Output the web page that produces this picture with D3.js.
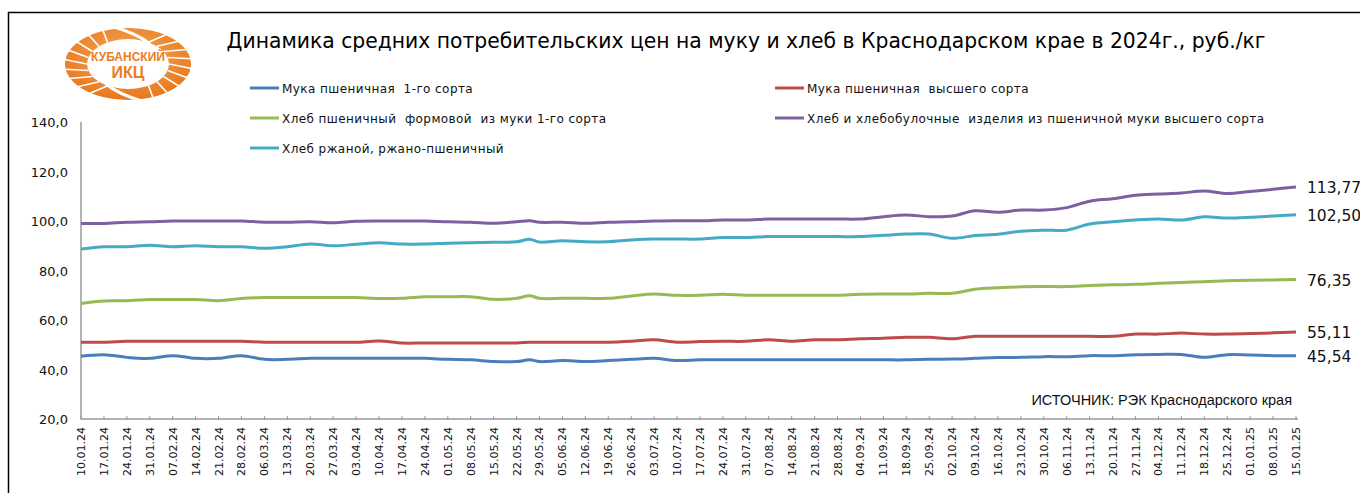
<!DOCTYPE html>
<html><head><meta charset="utf-8">
<script src="https://cdn.jsdelivr.net/npm/d3@7"></script>
<style>body{margin:0;background:#fff}svg{display:block}</style>
</head><body>
<script>
// ---------- DATA ----------
const tickLabels = ["10.01.24","17.01.24","24.01.24","31.01.24","07.02.24","14.02.24","21.02.24","28.02.24","06.03.24","13.03.24","20.03.24","27.03.24","03.04.24","10.04.24","17.04.24","24.04.24","01.05.24","08.05.24","15.05.24","22.05.24","29.05.24","05.06.24","12.06.24","19.06.24","26.06.24","03.07.24","10.07.24","17.07.24","24.07.24","31.07.24","07.08.24","14.08.24","21.08.24","28.08.24","04.09.24","11.09.24","18.09.24","25.09.24","02.10.24","09.10.24","16.10.24","23.10.24","30.10.24","06.11.24","13.11.24","20.11.24","27.11.24","04.12.24","11.12.24","18.12.24","25.12.24","01.01.25","08.01.25","15.01.25"];
// observation dates (weekly, plus one extra observation on 26.05.24)
const dates = ["10.01.24","17.01.24","24.01.24","31.01.24","07.02.24","14.02.24","21.02.24","28.02.24","06.03.24","13.03.24","20.03.24","27.03.24","03.04.24","10.04.24","17.04.24","24.04.24","01.05.24","08.05.24","15.05.24","22.05.24","26.05.24","29.05.24","05.06.24","12.06.24","19.06.24","26.06.24","03.07.24","10.07.24","17.07.24","24.07.24","31.07.24","07.08.24","14.08.24","21.08.24","28.08.24","04.09.24","11.09.24","18.09.24","25.09.24","02.10.24","09.10.24","16.10.24","23.10.24","30.10.24","06.11.24","13.11.24","20.11.24","27.11.24","04.12.24","11.12.24","18.12.24","25.12.24","01.01.25","08.01.25","15.01.25"];
const flour1 = [45.4,46.0,44.9,44.5,45.6,44.5,44.5,45.6,44.1,44.1,44.5,44.5,44.5,44.5,44.5,44.5,44.1,43.9,43.2,43.2,43.9,43.2,43.6,43.2,43.6,44.1,44.5,43.6,43.9,43.9,43.9,43.9,43.9,43.9,43.9,43.9,43.9,43.9,44.1,44.2,44.5,44.8,44.9,45.2,45.2,45.6,45.6,46.0,46.1,46.1,44.9,46.0,45.85,45.6,45.54];
const flourTop = [51.0,51.0,51.4,51.4,51.4,51.4,51.4,51.4,51.0,51.0,51.0,51.0,51.0,51.5,50.7,50.7,50.7,50.7,50.7,50.7,51.0,51.0,51.0,51.0,51.0,51.4,52.0,51.0,51.3,51.4,51.4,52.0,51.4,52.0,52.0,52.4,52.6,53.0,53.0,52.4,53.4,53.4,53.4,53.4,53.4,53.4,53.4,54.3,54.3,54.7,54.3,54.3,54.5,54.8,55.11];
const bread1 = [66.7,67.7,67.8,68.3,68.3,68.3,67.8,68.7,69.1,69.1,69.1,69.1,69.1,68.7,68.75,69.4,69.4,69.4,68.35,68.75,69.8,68.75,68.75,68.75,68.75,69.7,70.5,70.0,70.0,70.4,70.0,70.0,70.0,70.0,70.0,70.4,70.5,70.5,70.8,70.8,72.4,73.0,73.4,73.5,73.5,73.9,74.2,74.4,74.8,75.2,75.5,75.9,76.1,76.2,76.35];
const breadTop = [99.0,99.0,99.5,99.7,100.0,100.0,100.0,100.0,99.5,99.5,99.7,99.3,99.9,100.0,100.0,100.0,99.7,99.5,99.05,99.7,100.1,99.5,99.5,99.05,99.5,99.7,100.0,100.1,100.1,100.4,100.4,100.8,100.8,100.8,100.8,100.8,101.75,102.4,101.75,102.0,104.1,103.5,104.4,104.4,105.4,108.0,109.0,110.4,110.9,111.3,112.1,111.1,111.9,112.8,113.77];
const rye = [88.7,89.6,89.6,90.2,89.6,90.0,89.6,89.6,89.0,89.6,90.7,90.0,90.6,91.2,90.7,90.7,91.0,91.2,91.4,91.6,92.6,91.5,92.0,91.6,91.6,92.3,92.7,92.7,92.7,93.3,93.3,93.7,93.7,93.7,93.7,93.7,94.2,94.7,94.7,93.0,94.1,94.6,95.9,96.3,96.3,98.8,99.7,100.4,100.8,100.4,101.7,101.2,101.5,102.0,102.5];
const seriesNames = ["Мука пшеничная  1-го сорта","Мука пшеничная  высшего сорта","Хлеб пшеничный  формовой  из муки 1-го сорта","Хлеб и хлебобулочные  изделия из пшеничной муки высшего сорта","Хлеб ржаной, ржано-пшеничный"];
const seriesColors = ["#4a7ebb","#be4b48","#98b954","#7d60a0","#46aac5"];
const seriesValues = [flour1, flourTop, bread1, breadTop, rye];
const endLabels = ["45,54","55,11","76,35","113,77","102,50"];
const yTicks = [20,40,60,80,100,120,140];
const title = "Динамика средних потребительских цен на муку и хлеб в Краснодарском крае в 2024г., руб./кг";
const source = "ИСТОЧНИК: РЭК Краснодарского края";

// ---------- CHART ----------
const W = 1360, H = 493;
const parse = d3.utcParse("%d.%m.%y");
const svg = d3.select("body").append("svg").attr("width", W).attr("height", H);

// outer frame
svg.append("rect").attr("x", 8.5).attr("y", 12.5).attr("width", 1420).attr("height", 520)
  .attr("fill", "none").attr("stroke", "#000").attr("stroke-width", 1.5);

const x = d3.scaleUtc().domain([parse(tickLabels[0]), parse(tickLabels[tickLabels.length-1])]).range([81, 1296]);
const y = d3.scaleLinear().domain([20, 140]).range([419, 122]);

// logo
const logo = svg.append("g").attr("transform", "translate(128,64)");
const grad = svg.append("defs").append("radialGradient").attr("id","lg").attr("cx","50%").attr("cy","40%").attr("r","60%");
grad.append("stop").attr("offset","0%").attr("stop-color","#f6a85a");
grad.append("stop").attr("offset","100%").attr("stop-color","#e8781c");
logo.append("ellipse").attr("rx", 63).attr("ry", 36).attr("fill", "url(#lg)");
logo.append("ellipse").attr("rx", 41).attr("ry", 25).attr("fill", "#fff");
const sepAngles = [-150,-135,-120,-60,-45,-30,150,135,120,60,45,30,180,0,165,15,-165,-15];
sepAngles.forEach(a => {
  const r = a*Math.PI/180;
  logo.append("line")
    .attr("x1", 41*Math.cos(r)).attr("y1", 25*Math.sin(r))
    .attr("x2", 64*Math.cos(r+0.12)).attr("y2", 37*Math.sin(r+0.12))
    .attr("stroke", "#fff").attr("stroke-width", 1.6);
});
logo.append("path").attr("d","M-14,-37 Q10,-30 22,-20").attr("stroke","#fff").attr("stroke-width",3).attr("fill","none");
logo.append("path").attr("d","M14,37 Q-10,30 -22,20").attr("stroke","#fff").attr("stroke-width",3).attr("fill","none");
logo.append("text").attr("x",0).attr("y",-3).attr("text-anchor","middle")
  .attr("font-family","Liberation Sans Narrow, Liberation Sans, sans-serif").attr("font-weight","bold")
  .attr("font-size",12).attr("fill","#ea7d22").text("КУБАНСКИЙ");
logo.append("text").attr("x",0).attr("y",14).attr("text-anchor","middle")
  .attr("font-family","Liberation Sans, sans-serif").attr("font-weight","bold")
  .attr("font-size",16).attr("fill","#ea7d22").text("ИКЦ");

// title (fit to width)
const t = svg.append("text").attr("x", 746).attr("y", 48).attr("text-anchor", "middle")
  .attr("font-family", "DejaVu Sans, sans-serif").attr("font-size", 20).attr("fill", "#000").text(title);
const tw = t.node().getComputedTextLength();
t.attr("font-size", 20*1040/tw);

// legend
const legPos = [[250,88],[775,88],[250,118],[775,118],[250,148]];
seriesNames.forEach((n,i) => {
  const [lx,ly] = legPos[i];
  svg.append("line").attr("x1", lx).attr("x2", lx+29).attr("y1", ly).attr("y2", ly)
    .attr("stroke", seriesColors[i]).attr("stroke-width", 3);
  svg.append("text").attr("x", lx+32).attr("y", ly+4.5).attr("font-family","DejaVu Sans, sans-serif")
    .attr("font-size", 12).attr("letter-spacing", 0.42).attr("fill","#111").style("white-space","pre").text(n);
});

// y axis
svg.append("line").attr("x1",81).attr("x2",81).attr("y1",y(140)).attr("y2",y(20)).attr("stroke","#9a9a9a").attr("stroke-width",1.5);
yTicks.forEach(v => {
  svg.append("text").attr("x", 68).attr("y", y(v)+5).attr("text-anchor","end")
    .attr("font-family","DejaVu Sans, sans-serif").attr("font-size",13).attr("fill","#111")
    .text(d3.format(".1f")(v).replace(".", ","));
});

// x axis
svg.append("line").attr("x1",81).attr("x2",1298).attr("y1",y(20)).attr("y2",y(20)).attr("stroke","#9a9a9a").attr("stroke-width",1.5);
tickLabels.forEach(lbl => {
  const px = x(parse(lbl));
  svg.append("line").attr("x1",px).attr("x2",px).attr("y1",y(20)-3).attr("y2",y(20)+1).attr("stroke","#9a9a9a");
  svg.append("text").attr("transform",`translate(${px+4},${y(20)+8}) rotate(-90)`).attr("text-anchor","end")
    .attr("font-family","DejaVu Sans, sans-serif").attr("font-size",11).attr("fill","#111").text(lbl);
});

// lines
const line = d3.line().x((d,i) => x(parse(dates[i]))).y(d => y(d)).curve(d3.curveCatmullRom.alpha(0.5));
seriesValues.forEach((vals,i) => {
  svg.append("path").datum(vals).attr("d", line).attr("fill","none")
    .attr("stroke", seriesColors[i]).attr("stroke-width", 3).attr("stroke-linejoin","round");
  svg.append("text").attr("x", 1307).attr("y", y(vals[vals.length-1])+6)
    .attr("font-family","DejaVu Sans, sans-serif").attr("font-size",15.5).attr("fill","#111").text(endLabels[i]);
});

// source
svg.append("text").attr("x", 1292).attr("y", 405).attr("text-anchor","end")
  .attr("font-family","Liberation Sans, sans-serif").attr("font-size",14.5).attr("fill","#111").text(source);
</script>
</body></html>
